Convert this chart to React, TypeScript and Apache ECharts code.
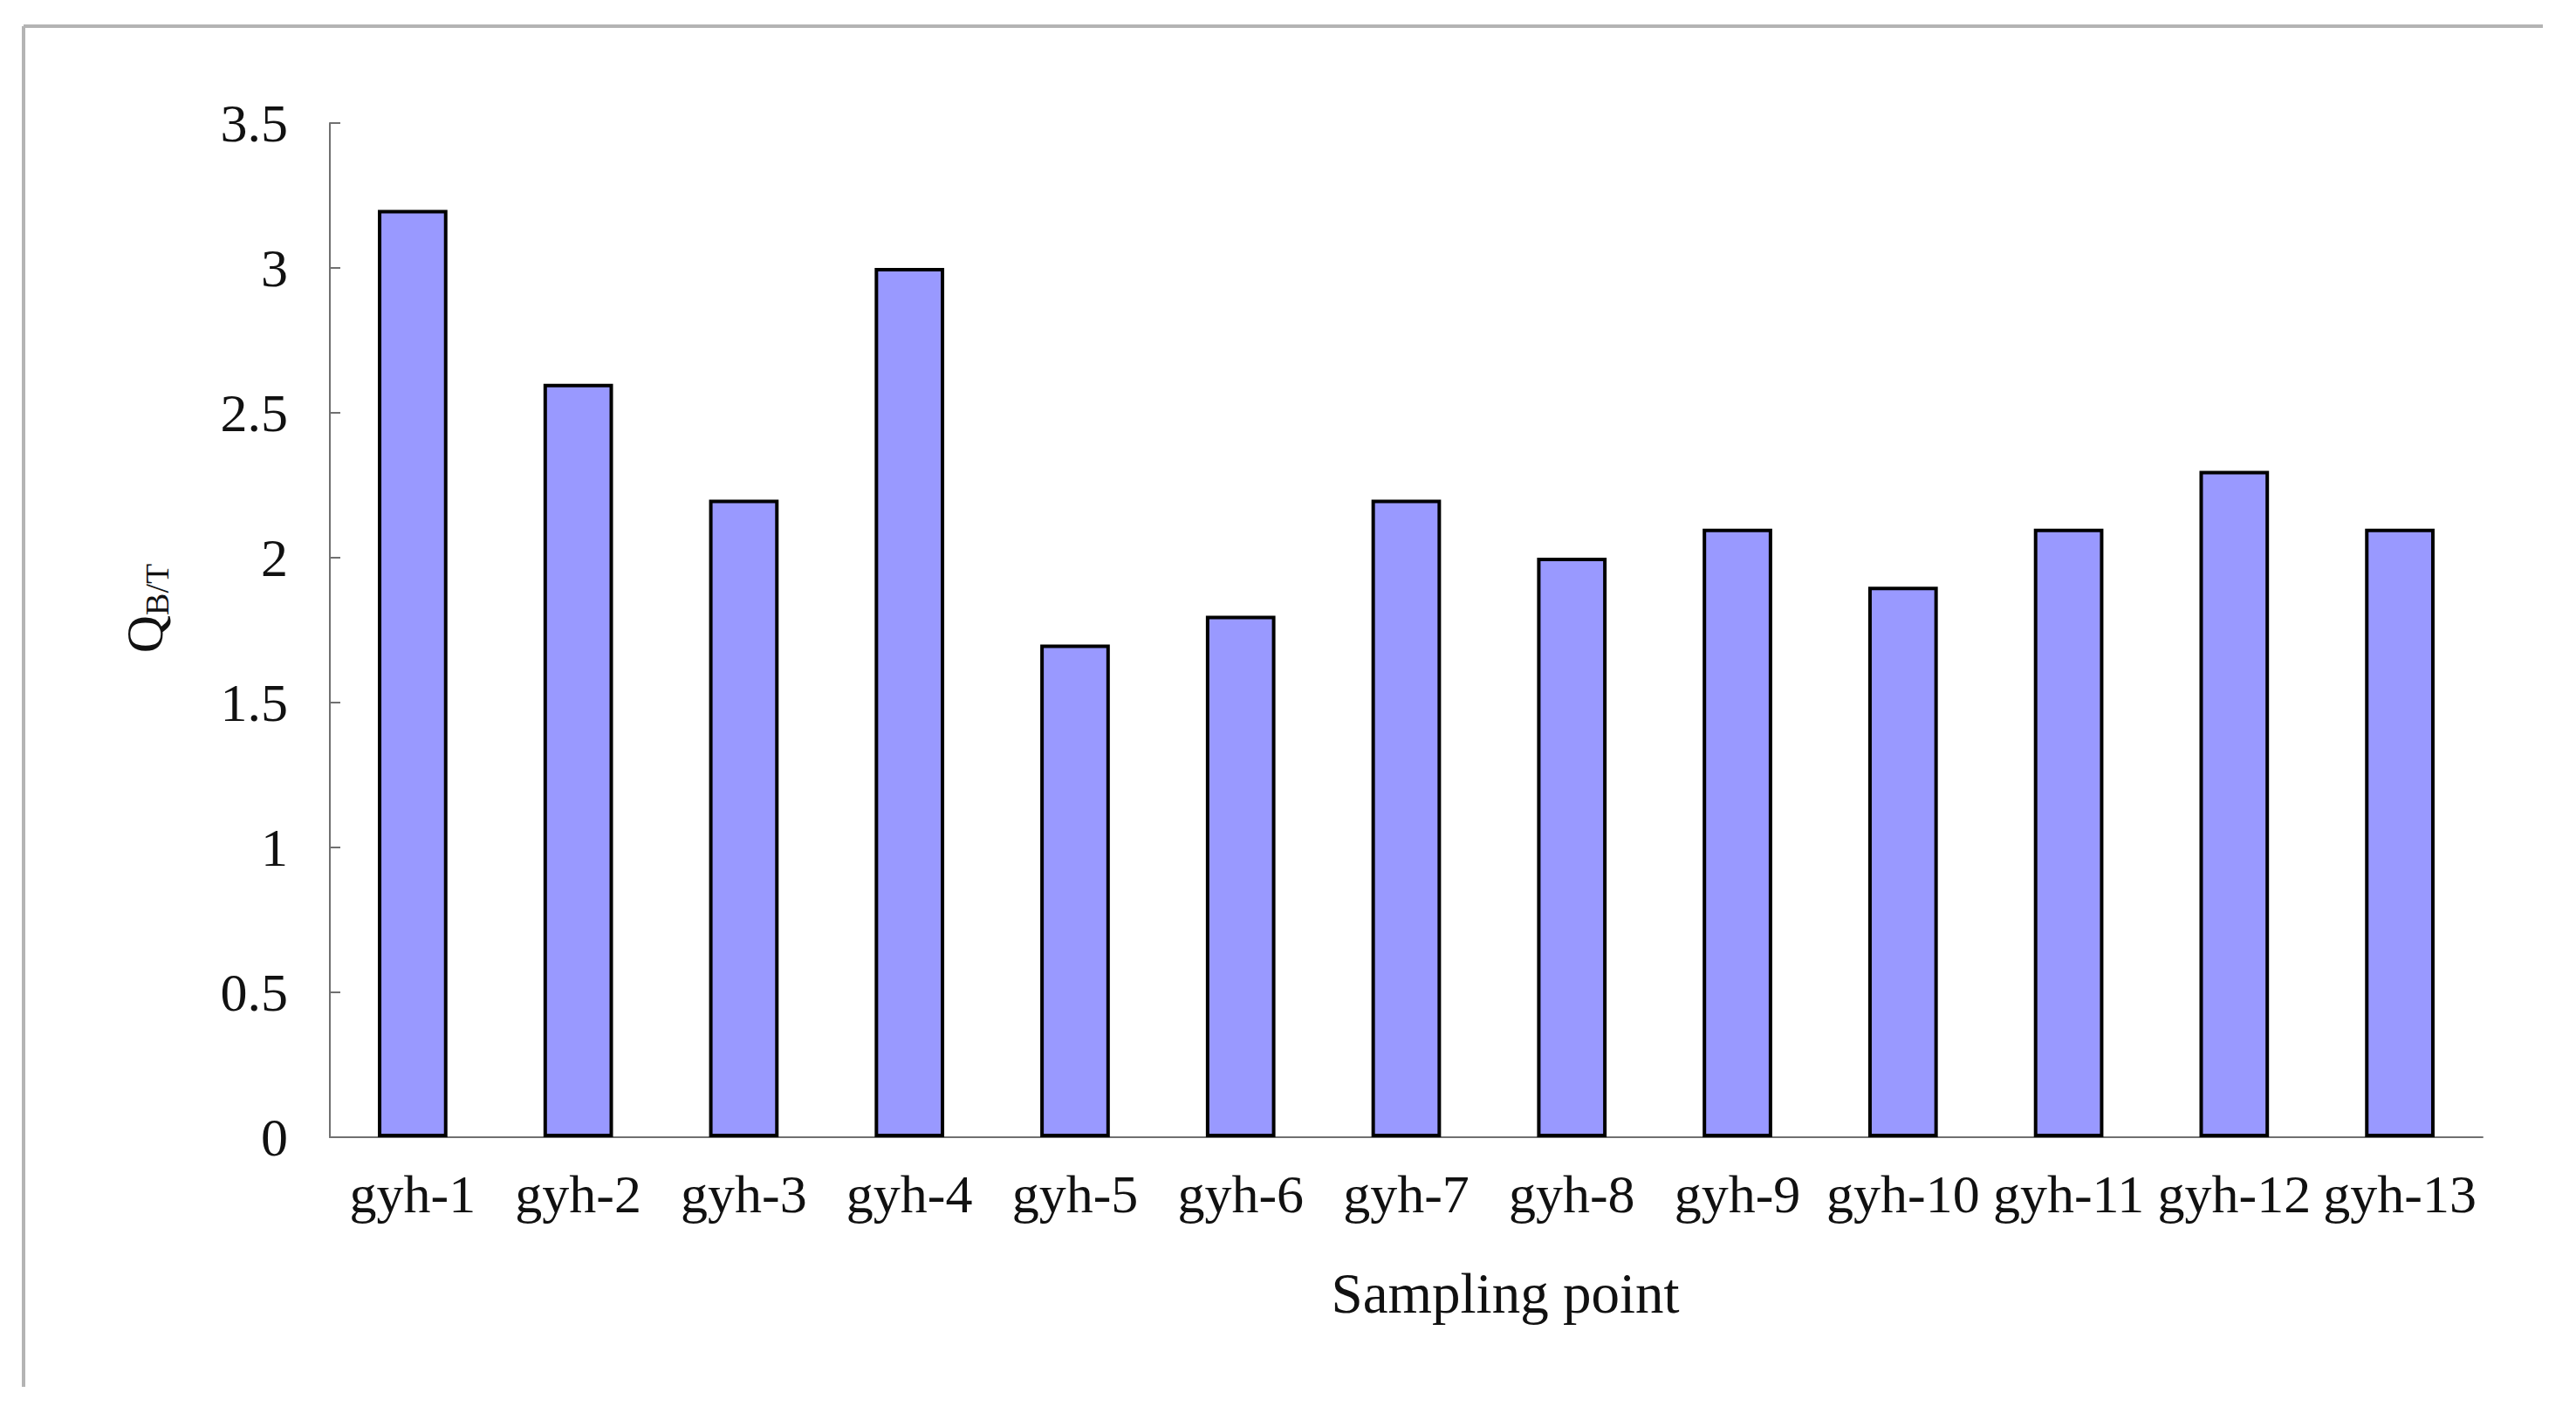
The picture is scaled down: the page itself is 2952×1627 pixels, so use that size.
import React, { useEffect, useRef } from "react";
import * as echarts from "echarts";

const categories = ["gyh-1", "gyh-2", "gyh-3", "gyh-4", "gyh-5", "gyh-6", "gyh-7", "gyh-8", "gyh-9", "gyh-10", "gyh-11", "gyh-12", "gyh-13"];
const qbtValues = [3.2, 2.6, 2.2, 3.0, 1.7, 1.8, 2.2, 2.0, 2.1, 1.9, 2.1, 2.3, 2.1];
const yTicks = { min: 0, max: 3.5, interval: 0.5 };
const xTitle = "Sampling point";

const FONT = "'Liberation Serif', 'DejaVu Serif', serif";

export default function App() {
  const ref = useRef<HTMLDivElement>(null);
  useEffect(() => {
    if (!ref.current) return;
    const chart = echarts.init(ref.current, undefined, { renderer: "svg" });
    chart.setOption({
      animation: false,
      backgroundColor: "#ffffff",
      grid: { left: 378, right: 107, top: 141, bottom: 324, containLabel: false },
      xAxis: {
        type: "category",
        data: categories,
        axisLine: { lineStyle: { color: "#707070", width: 2 } },
        axisTick: { inside: true, length: 18, lineStyle: { color: "#707070", width: 2 } },
        axisLabel: { color: "#111", fontFamily: FONT, fontSize: 62, margin: 34, interval: 0 },
        splitLine: { show: false },
      },
      yAxis: {
        type: "value",
        min: yTicks.min,
        max: yTicks.max,
        interval: yTicks.interval,
        axisLine: { show: true, lineStyle: { color: "#707070", width: 2 } },
        axisTick: { show: true, inside: true, length: 12, lineStyle: { color: "#707070", width: 2 } },
        axisLabel: { color: "#111", fontFamily: FONT, fontSize: 62, margin: 48 },
        splitLine: { show: false },
      },
      series: [
        {
          type: "bar",
          data: qbtValues,
          barWidth: "42%",
          itemStyle: { color: "#9999ff", borderColor: "#000000", borderWidth: 4 },
        },
      ],
      graphic: [
        { type: "line", shape: { x1: 27, y1: 30, x2: 2914, y2: 30 }, style: { stroke: "#b4b4b4", lineWidth: 4 } },
        { type: "line", shape: { x1: 27, y1: 30, x2: 27, y2: 1589 }, style: { stroke: "#b4b4b4", lineWidth: 4 } },
        {
          type: "text",
          x: 1725,
          y: 1482,
          style: { text: xTitle, fill: "#111", font: `65px ${FONT}`, align: "center", verticalAlign: "middle" },
        },
        {
          type: "text",
          x: 166,
          y: 697,
          rotation: Math.PI / 2,
          style: {
            text: "{q|Q}{s|B/T}",
            align: "center",
            verticalAlign: "middle",
            fill: "#111",
            rich: {
              q: { fontFamily: FONT, fontSize: 60, lineHeight: 66, verticalAlign: "middle", fill: "#111" },
              s: { fontFamily: FONT, fontSize: 38, lineHeight: 66, verticalAlign: "bottom", fill: "#111" },
            },
          },
        },
      ],
    });
    return () => chart.dispose();
  }, []);
  return <div ref={ref} style={{ position: "fixed", left: 0, top: 0, width: "2952px", height: "1627px" }} />;
}
